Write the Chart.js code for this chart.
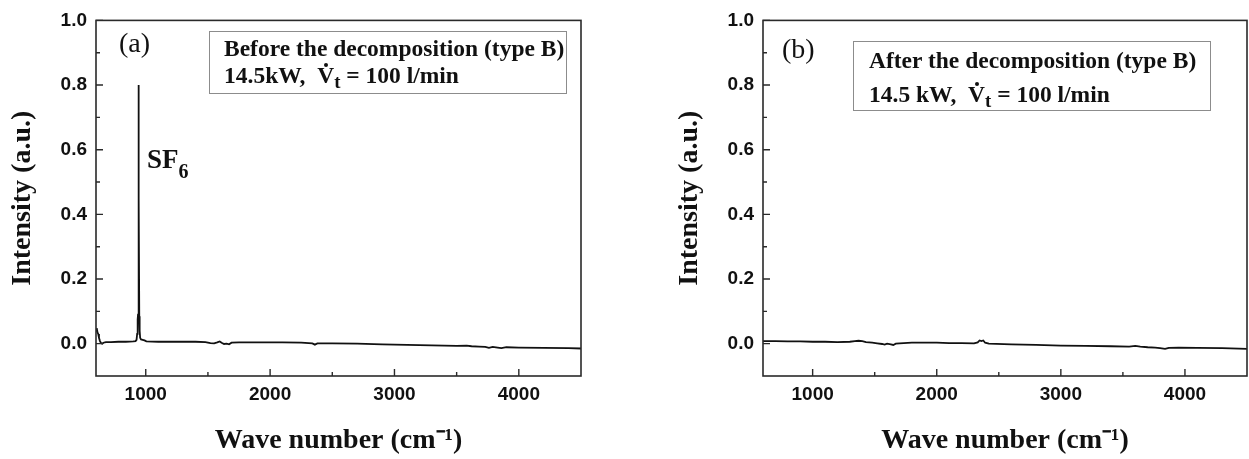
<!DOCTYPE html>
<html>
<head>
<meta charset="utf-8">
<script src="https://cdn.jsdelivr.net/npm/chart.js@4.4.1/dist/chart.umd.min.js"></script>
<style>
  html, body { margin: 0; padding: 0; background: #ffffff; }
  #page { position: relative; width: 1249px; height: 459px; overflow: hidden; background: #fff; }
  .cv { position: absolute; top: 0; }
  .box { position: absolute; border: 1.5px solid #8c8c8c; box-sizing: border-box; }
  .txt { position: absolute; white-space: nowrap; line-height: 1; color: #111;
         font-family: "Liberation Serif", "Times New Roman", serif; }
  .b23 { font-weight: bold; font-size: 23.5px; }
  .lab { font-size: 28px; font-weight: normal; }
  .sub { font-size: 0.8em; position: relative; top: 0.28em; }
  .vdot { position: relative; display: inline-block; }
  .vdot::after { content: ""; position: absolute; left: 50%; top: -1px; width: 4px; height: 4px;
                 margin-left: -2px; border-radius: 50%; background: #111; }
</style>
</head>
<body>
<div id="page">
  <canvas id="chartA" class="cv" width="600" height="459" style="left:0px"></canvas>
  <canvas id="chartB" class="cv" width="582" height="459" style="left:667px"></canvas>

  <!-- panel (a) annotations -->
  <div class="txt lab" style="left:119px; top:29px;">(a)</div>
  <div class="box" style="left:209px; top:31px; width:358px; height:63px;"></div>
  <div class="txt b23" style="left:224px; top:37px;">Before the decomposition (type B)</div>
  <div class="txt b23" style="left:224px; top:64px;">14.5kW,&nbsp; <span class="vdot">V</span><span class="sub">t</span> = 100 l/min</div>
  <div class="txt" style="left:147px; top:146px; font-weight:bold; font-size:27px;">SF<span style="font-size:20px; position:relative; top:10px;">6</span></div>

  <!-- panel (b) annotations -->
  <div class="txt lab" style="left:782px; top:35px;">(b)</div>
  <div class="box" style="left:853px; top:41px; width:358px; height:70px;"></div>
  <div class="txt b23" style="left:869px; top:49px;">After the decomposition (type B)</div>
  <div class="txt b23" style="left:869px; top:83px;">14.5 kW,&nbsp; <span class="vdot">V</span><span class="sub">t</span> = 100 l/min</div>
</div>

<script>
// ---------------- data ----------------
const wavenumberA = [600, 606, 612, 618, 624, 632, 640, 650, 660, 680, 720, 780, 840, 900, 918, 926, 931, 935, 938, 941, 943, 945, 948, 951, 955, 962, 975, 990, 1005, 1100, 1200, 1300, 1400, 1480, 1520, 1550, 1575, 1595, 1610, 1630, 1650, 1670, 1690, 1750, 1900, 2100, 2250, 2340, 2360, 2380, 2500, 2700, 2900, 3100, 3300, 3500, 3580, 3620, 3680, 3730, 3760, 3790, 3830, 3860, 3900, 4000, 4200, 4400, 4500];
const intensityA = [0.040, 0.048, 0.035, 0.030, 0.018, 0.008, 0.002, 0.000, 0.003, 0.005, 0.005, 0.006, 0.006, 0.007, 0.008, 0.012, 0.030, 0.075, 0.090, 0.45, 0.80, 0.45, 0.085, 0.040, 0.018, 0.013, 0.012, 0.010, 0.007, 0.006, 0.006, 0.006, 0.006, 0.005, 0.002, 0.001, 0.004, 0.007, 0.003, -0.001, 0.000, -0.002, 0.003, 0.004, 0.004, 0.004, 0.003, 0.001, -0.003, 0.001, 0.001, 0.000, -0.002, -0.004, -0.005, -0.007, -0.006, -0.008, -0.009, -0.010, -0.013, -0.010, -0.012, -0.014, -0.011, -0.012, -0.013, -0.014, -0.015];

const wavenumberB = [600, 700, 800, 900, 1000, 1100, 1200, 1300, 1340, 1370, 1400, 1430, 1480, 1520, 1560, 1580, 1600, 1630, 1650, 1670, 1700, 1800, 1900, 2000, 2100, 2200, 2300, 2330, 2345, 2360, 2375, 2390, 2420, 2600, 2800, 3000, 3200, 3400, 3550, 3600, 3640, 3700, 3760, 3800, 3840, 3870, 3950, 4100, 4300, 4500];
const intensityB = [0.008, 0.008, 0.007, 0.007, 0.006, 0.006, 0.005, 0.006, 0.008, 0.009, 0.008, 0.005, 0.003, 0.001, -0.001, -0.003, 0.000, -0.002, -0.004, 0.000, 0.001, 0.003, 0.003, 0.003, 0.002, 0.002, 0.001, 0.004, 0.010, 0.008, 0.010, 0.003, 0.000, -0.002, -0.004, -0.006, -0.007, -0.008, -0.009, -0.007, -0.009, -0.011, -0.012, -0.014, -0.016, -0.013, -0.012, -0.013, -0.014, -0.016];

const xMajorTicks = [1000, 2000, 3000, 4000];
const xMinorTicks = [1500, 2500, 3500];
const yMajorTicks = [0.0, 0.2, 0.4, 0.6, 0.8, 1.0];
const yMinorTicks = [0.1, 0.3, 0.5, 0.7, 0.9];
const xRange = [600, 4500];
const yRange = [-0.1, 1.0];

const xTitle = 'Wave number (cm\u207B\u00B9)';
const yTitle = 'Intensity (a.u.)';

// ---------------- plugin: frame + inward ticks ----------------
const framePlugin = {
  id: 'frameTicks',
  afterDatasetsDraw(chart) {
    const { ctx, chartArea: a, scales } = chart;
    const xs = scales.x, ys = scales.y;
    ctx.save();
    ctx.strokeStyle = '#2a2a2a';
    ctx.lineWidth = 1.6;
    ctx.strokeRect(a.left, a.top, a.right - a.left, a.bottom - a.top);
    ctx.lineWidth = 1.4;
    ctx.beginPath();
    xMajorTicks.forEach(v => { const p = xs.getPixelForValue(v); ctx.moveTo(p, a.bottom); ctx.lineTo(p, a.bottom - 7); });
    xMinorTicks.forEach(v => { const p = xs.getPixelForValue(v); ctx.moveTo(p, a.bottom); ctx.lineTo(p, a.bottom - 4); });
    yMajorTicks.forEach(v => { const p = ys.getPixelForValue(v); ctx.moveTo(a.left, p); ctx.lineTo(a.left + 7, p); });
    yMinorTicks.forEach(v => { const p = ys.getPixelForValue(v); ctx.moveTo(a.left, p); ctx.lineTo(a.left + 4, p); });
    ctx.stroke();
    ctx.restore();
  }
};

function makeChart(id, xs, ys, rightPad) {
  const pts = xs.map((x, i) => ({ x: x, y: ys[i] }));
  return new Chart(document.getElementById(id), {
    type: 'line',
    data: { datasets: [{ data: pts, borderColor: '#111111', borderWidth: 1.8, pointRadius: 0, tension: 0, fill: false }] },
    options: {
      responsive: false,
      devicePixelRatio: 1,
      animation: false,
      parsing: false,
      layout: { padding: { top: 19, right: rightPad, left: 0, bottom: 0 } },
      plugins: { legend: { display: false }, tooltip: { enabled: false } },
      scales: {
        x: {
          type: 'linear', min: xRange[0], max: xRange[1],
          afterBuildTicks: s => { s.ticks = xMajorTicks.map(v => ({ value: v })); },
          afterFit: s => { s.height = 83; },
          grid: { display: false, drawTicks: false },
          border: { display: false },
          ticks: { color: '#111', padding: 7, font: { family: '"Liberation Sans", Arial, sans-serif', size: 19, weight: 'bold' }, callback: v => String(v) },
          title: { display: true, text: xTitle, color: '#111', padding: { top: 0, bottom: 1 },
                   font: { family: '"Liberation Serif", "Times New Roman", serif', size: 28, weight: 'bold' } }
        },
        y: {
          type: 'linear', min: yRange[0], max: yRange[1],
          afterBuildTicks: s => { s.ticks = yMajorTicks.map(v => ({ value: v })); },
          afterFit: s => { s.width = 96; },
          grid: { display: false, drawTicks: false },
          border: { display: false },
          ticks: { color: '#111', padding: 9, font: { family: '"Liberation Sans", Arial, sans-serif', size: 19, weight: 'bold' }, callback: v => Number(v).toFixed(1) },
          title: { display: true, text: yTitle, color: '#111', padding: { top: 6, bottom: 0 },
                   font: { family: '"Liberation Serif", "Times New Roman", serif', size: 28, weight: 'bold' } }
        }
      }
    },
    plugins: [framePlugin]
  });
}

makeChart('chartA', wavenumberA, intensityA, 19);
makeChart('chartB', wavenumberB, intensityB, 2);
</script>
</body>
</html>
